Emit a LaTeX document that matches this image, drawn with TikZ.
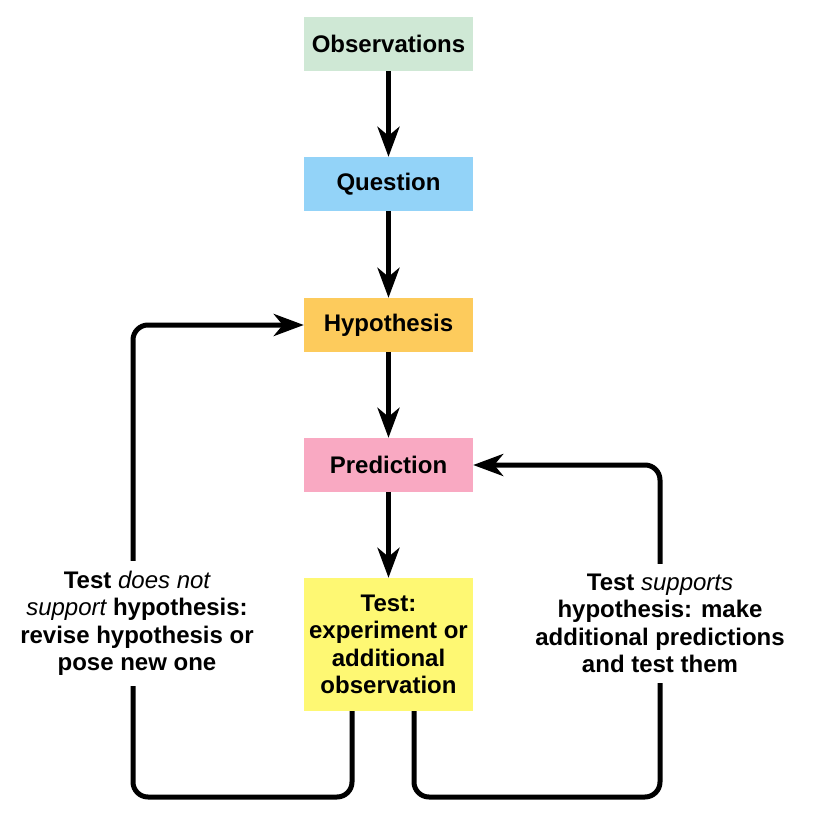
\documentclass[tikz,border=0pt]{standalone}
\usepackage{fontspec}
\setmainfont{Liberation Sans}
\usetikzlibrary{arrows.meta}
\definecolor{cobs}{HTML}{CFE8D5}
\definecolor{cq}{HTML}{93D3F8}
\definecolor{chyp}{HTML}{FDCB5C}
\definecolor{cpred}{HTML}{F9A9C2}
\definecolor{ctest}{HTML}{FEF873}
\newcommand{\itm}[1]{{\mdseries\itshape #1}}
\begin{document}
\begin{tikzpicture}[x=1pt,y=-1pt,
  box/.style={minimum width=169pt, minimum height=54pt, inner sep=0pt,
    font=\fontsize{24}{27.5}\selectfont\bfseries, align=center},
  lbl/.style={fill=white, inner xsep=2pt, inner ysep=10pt,
    font=\fontsize{24}{27.5}\selectfont\bfseries, align=center},
  conn/.style={line width=5pt, -{Stealth[length=30pt,width=22pt,inset=9pt]}},
  loopc/.style={conn, rounded corners=15pt}]
\useasboundingbox (0,0) rectangle (815,817);
\node[box, fill=cobs] (obs) at (388.5,44) {Observations};
\node[box, fill=cq] (q) at (388.5,184) {Question};
\node[box, fill=chyp] (hyp) at (388.5,325) {Hypothesis};
\node[box, fill=cpred] (pred) at (388.5,465) {Prediction};
\node[box, fill=ctest, minimum height=133pt] (test) at (388.5,644.5)
  {Test:\\experiment or\\additional\\observation};
\draw[conn] (obs) -- (q);
\draw[conn] (q) -- (hyp);
\draw[conn] (hyp) -- (pred);
\draw[conn] (pred) -- (test);
\coordinate (lc) at (133,797);
\coordinate (rc) at (660,797);
\draw[loopc] ([xshift=-36.5pt]test.south) |- (lc) |- (hyp.west);
\draw[loopc] ([xshift=25.5pt]test.south) |- (rc) |- (pred.east);
\node[lbl] (ll) at (137,623.5) {Test \itm{does not}\\\itm{support} hypothesis:\\revise hypothesis or\\pose new one};
\node[lbl] (rl) at (660,623.5) {Test \itm{supports}\\hypothesis: make\\additional predictions\\and test them};
\end{tikzpicture}
\end{document}
